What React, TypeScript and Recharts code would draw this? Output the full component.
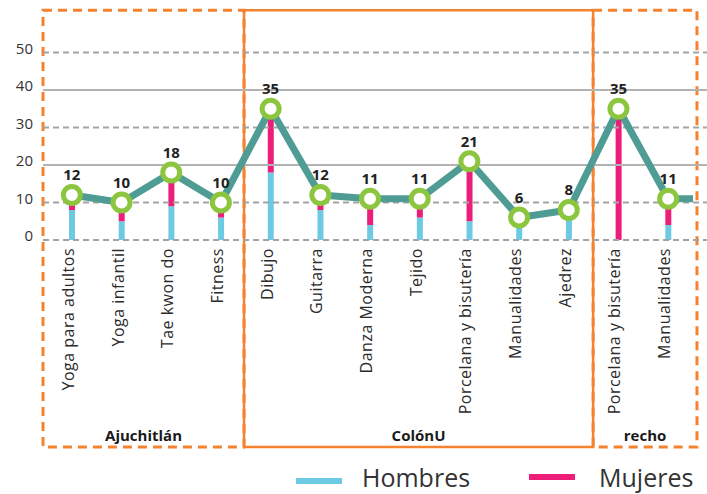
import {
  Bar,
  ComposedChart,
  LabelList,
  Line,
  ReferenceArea,
  ReferenceLine,
  XAxis,
  YAxis,
} from "recharts";

const talleres = [
  "Yoga para adultos",
  "Yoga infantil",
  "Tae kwon do",
  "Fitness",
  "Dibujo",
  "Guitarra",
  "Danza Moderna",
  "Tejido",
  "Porcelana y bisutería",
  "Manualidades",
  "Ajedrez",
  "Porcelana y bisutería",
  "Manualidades",
];
const hombres = [8, 5, 9, 6, 18, 8, 4, 6, 5, 6, 8, 0, 4];
const mujeres = [4, 5, 9, 4, 17, 4, 7, 5, 16, 0, 0, 35, 7];
const totales = [12, 10, 18, 10, 35, 12, 11, 11, 21, 6, 8, 35, 11];
// la línea sigue más allá del recorte de la derecha
const totalSiguiente = 11;

const yTicks = [0, 10, 20, 30, 40, 50];
const gridSolido = [20, 40];

// sedes, en unidades del eje x (índice del taller)
const sedes = [
  { nombre: "Ajuchitlán", desde: -0.58, hasta: 3.465, punteada: true },
  { nombre: "recho", desde: 10.49, hasta: 12.58, punteada: true },
  { nombre: "ColónU", desde: 3.465, hasta: 10.49, punteada: false },
];

const FONT = "'Open Sans', sans-serif";
const NARANJA = "#F5822E";
const CIAN = "#6DCAE3";
const ROSA = "#EC1E79";
const VERDE = "#8CC63F";
const TEAL = "#4F9C95";

const data = [
  ...talleres.map((t, i) => ({
    x: i,
    taller: t,
    hombres: hombres[i],
    mujeres: mujeres[i],
    total: totales[i],
    etiqueta: totales[i],
  })),
  { x: talleres.length, total: totalSiguiente },
];

function TickTaller(props: any) {
  const { x, y, payload } = props;
  return (
    <text
      x={x}
      y={y}
      dy={2}
      transform={`rotate(-90 ${x} ${y})`}
      textAnchor="end"
      fill="#2b2b2b"
      fontFamily={FONT}
      fontSize={16}
      letterSpacing={0.5}
    >
      {talleres[payload.value]}
    </text>
  );
}

function TickValor(props: any) {
  const { x, y, payload } = props;
  return (
    <text x={x} y={y - 4} dy="0.35em" textAnchor="end" fill="#333" fontFamily={FONT} fontSize={15}>
      {payload.value}
    </text>
  );
}

function Punto(props: any) {
  const { cx, cy, index } = props;
  if (cx == null || cy == null) return <g key={index} />;
  return <circle key={index} cx={cx} cy={cy} r={8.5} fill="#fff" stroke={VERDE} strokeWidth={5} />;
}

function Etiqueta(props: any) {
  const { x, y, value } = props;
  if (value == null) return null;
  return (
    <text x={x} y={y - 20} dy="0.35em" textAnchor="middle" fill="#222" fontFamily={FONT} fontWeight={700} fontSize={15}>
      {value}
    </text>
  );
}

function NombreSede(props: any) {
  const { viewBox, value } = props;
  const { x, y, width, height } = viewBox;
  return (
    <text x={x + width / 2} y={y + height - 6} textAnchor="middle" fill="#1a1a1a" fontFamily={FONT} fontWeight={700} fontSize={15}>
      {value}
    </text>
  );
}

export default function App() {
  return (
    <div style={{ position: "relative", width: 707, height: 494, fontFamily: FONT }}>
      <style>{"body{margin:0}"}</style>
      <ComposedChart width={707} height={494} data={data} margin={{ top: 15, right: 14, left: 0, bottom: 0 }}>
        <XAxis
          dataKey="x"
          type="number"
          domain={[-0.5, 12.5]}
          allowDataOverflow
          ticks={talleres.map((_, i) => i)}
          interval={0}
          tickLine={false}
          axisLine={false}
          height={254}
          tick={<TickTaller />}
        />
        <YAxis
          type="number"
          domain={[0, 60]}
          ticks={yTicks}
          width={47}
          tickLine={false}
          axisLine={false}
          tickMargin={8}
          tick={<TickValor />}
        />
        {yTicks.map((t) => (
          <ReferenceLine
            key={t}
            segment={[
              { x: -0.58, y: t },
              { x: 12.78, y: t },
            ]}
            ifOverflow="visible"
            stroke={gridSolido.includes(t) ? "#b3b3b3" : "#a3a3a3"}
            strokeWidth={2}
            strokeDasharray={gridSolido.includes(t) ? undefined : "6 4"}
          />
        ))}
        {sedes.map((s) => (
          <ReferenceArea
            key={s.nombre}
            x1={s.desde}
            x2={s.hasta}
            y1={-55.2}
            y2={61.3}
            ifOverflow="visible"
            fill="none"
            fillOpacity={0}
            stroke={NARANJA}
            strokeWidth={s.punteada ? 3 : 2.5}
            strokeDasharray={s.punteada ? "9 6" : undefined}
            label={<NombreSede value={s.nombre} />}
          />
        ))}
        <Bar dataKey="hombres" stackId="g" fill={CIAN} barSize={6} isAnimationActive={false} />
        <Bar dataKey="mujeres" stackId="g" fill={ROSA} barSize={6} isAnimationActive={false} />
        <Line
          type="linear"
          dataKey="total"
          stroke={TEAL}
          strokeWidth={7}
          strokeLinejoin="round"
          dot={<Punto />}
          activeDot={false}
          isAnimationActive={false}
        >
          <LabelList dataKey="etiqueta" content={<Etiqueta />} />
        </Line>
      </ComposedChart>
      <div style={{ position: "absolute", left: 296, top: 478, width: 46, height: 6, background: CIAN }} />
      <div style={{ position: "absolute", left: 362, top: 465, fontSize: 25, lineHeight: "25px", color: "#333" }}>Hombres</div>
      <div style={{ position: "absolute", left: 529, top: 474, width: 46, height: 6, background: ROSA }} />
      <div style={{ position: "absolute", left: 599, top: 465, fontSize: 25, lineHeight: "25px", color: "#333" }}>Mujeres</div>
    </div>
  );
}
